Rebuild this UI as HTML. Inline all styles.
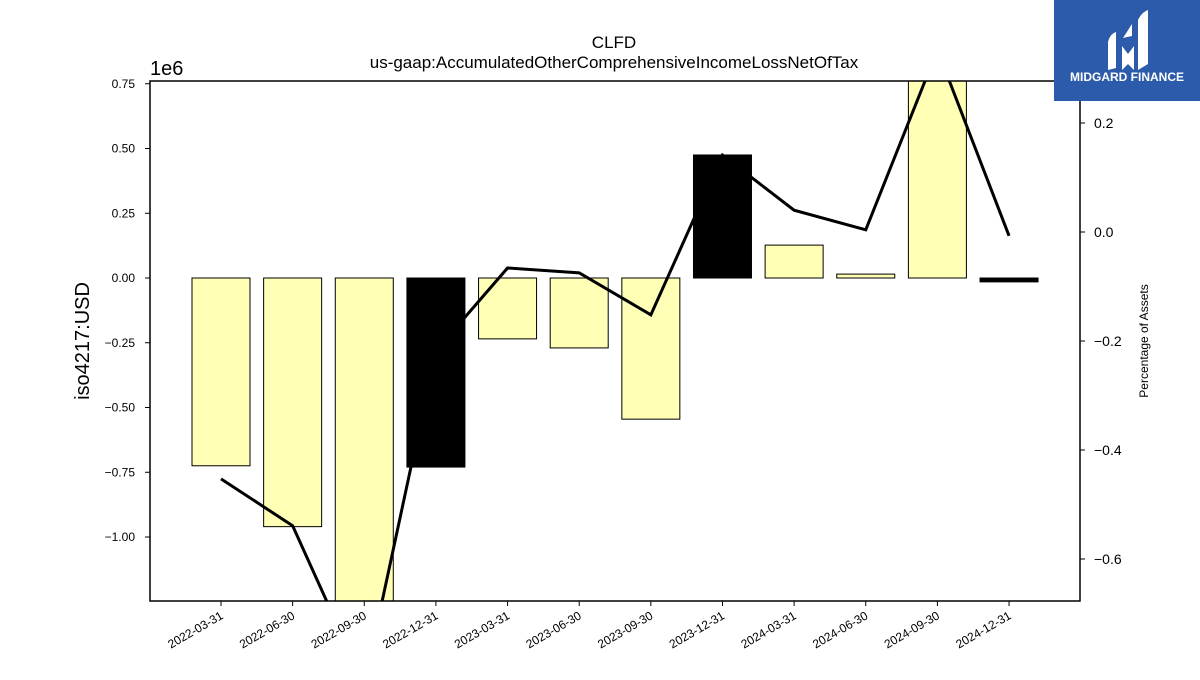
<!DOCTYPE html>
<html><head><meta charset="utf-8"><style>
body{margin:0;background:#fff;}
svg{font-family:"Liberation Sans","DejaVu Sans",sans-serif;}
</style></head><body>
<svg id="chart" width="1200" height="675" xmlns="http://www.w3.org/2000/svg">
<text x="614" y="48" font-size="17" text-anchor="middle">CLFD</text>
<text x="614" y="68" font-size="17" text-anchor="middle">us-gaap:AccumulatedOtherComprehensiveIncomeLossNetOfTax</text>
<text x="150" y="75" font-size="20">1e6</text>
<text transform="translate(89,341) rotate(-90)" font-size="20" text-anchor="middle">iso4217:USD</text>
<text transform="translate(1148,341) rotate(-90)" font-size="12" text-anchor="middle">Percentage of Assets</text>
<defs><clipPath id="pc"><rect x="150" y="81" width="930" height="520"/></clipPath></defs>
<g id="bars" clip-path="url(#pc)"></g>
<g id="line" clip-path="url(#pc)"></g>
<rect x="150" y="81" width="930" height="520" fill="none" stroke="#000" stroke-width="1.5"/>
<g id="axes"></g>
<g>
<rect x="1054" y="0" width="146" height="101" fill="#2d5bab"/>
<path d="M1108 70 L1108 42 Q1110 34 1116 32 L1116 68 Z M1122 70 L1122 46 L1128 54 L1134 46 L1134 70 L1128 64 Z M1123 38 L1132 24 L1132 36 Z M1138 70 L1138 20 Q1142 12 1148 10 L1148 64 Z" fill="#fff"/>
<text x="1127" y="81" font-size="12" font-weight="bold" fill="#fff" text-anchor="middle">MIDGARD FINANCE</text>
</g>
</svg>
<script>
const categories=["2022-03-31","2022-06-30","2022-09-30","2022-12-31","2023-03-31","2023-06-30","2023-09-30","2023-12-31","2024-03-31","2024-06-30","2024-09-30","2024-12-31"];
const barValues=[-0.725,-0.96,-1.30,-0.73,-0.235,-0.27,-0.545,0.475,0.127,0.015,0.90,-0.015];
const barBlack=[false,false,false,true,false,false,false,true,false,false,false,true];
const pctValues=[-0.453,-0.539,-0.83,-0.218,-0.066,-0.075,-0.152,0.141,0.040,0.004,0.334,-0.007];
const leftTicks=[0.75,0.5,0.25,0,-0.25,-0.5,-0.75,-1.0];
const rightTicks=[0.2,0,-0.2,-0.4,-0.6];
const NS="http://www.w3.org/2000/svg";
const x=i=>221+i*71.64;
const yL=v=>278-v*259;
const yR=v=>232-v*545;
function mk(t,a,p){const e=document.createElementNS(NS,t);for(const k in a)e.setAttribute(k,a[k]);p.appendChild(e);return e;}
const bars=document.getElementById('bars'),line=document.getElementById('line'),axes=document.getElementById('axes');
barValues.forEach((v,i)=>{
 const y0=yL(0),y1=yL(v);
 const r=mk('rect',{x:x(i)-29,y:Math.min(y0,y1),width:58,height:Math.max(Math.abs(y1-y0),1),fill:barBlack[i]?'#000':'#ffffb5',stroke:'#000','stroke-width':1},bars);
 
 
});
const pl=mk('polyline',{points:pctValues.map((v,i)=>x(i)+','+yR(v)).join(' '),fill:'none',stroke:'#000','stroke-width':3,'stroke-linejoin':'miter'},line);


leftTicks.forEach(v=>{
 const y=yL(v);
 mk('line',{x1:145,x2:150,y1:y,y2:y,stroke:'#000'},axes);
 const t=mk('text',{x:135,y:y+4,'font-size':12,'text-anchor':'end'},axes);
 t.textContent=(v<0?'\u2212':'')+Math.abs(v).toFixed(2);
 
 
});
rightTicks.forEach(v=>{
 const y=yR(v);
 mk('line',{x1:1080,x2:1085,y1:y,y2:y,stroke:'#000'},axes);
 const t=mk('text',{x:1094,y:y+5,'font-size':14},axes);
 t.textContent=(v<0?'\u2212':'')+Math.abs(v).toFixed(1);
 
 
});
categories.forEach((c,i)=>{
 mk('line',{x1:x(i),x2:x(i),y1:601,y2:606,stroke:'#000'},axes);
 const t=mk('text',{x:x(i)+3,y:618,'font-size':12,'text-anchor':'end',transform:'rotate(-30 '+(x(i)+3)+' 618)'},axes);
 t.textContent=c;
 
 
});
</script>
</body></html>
